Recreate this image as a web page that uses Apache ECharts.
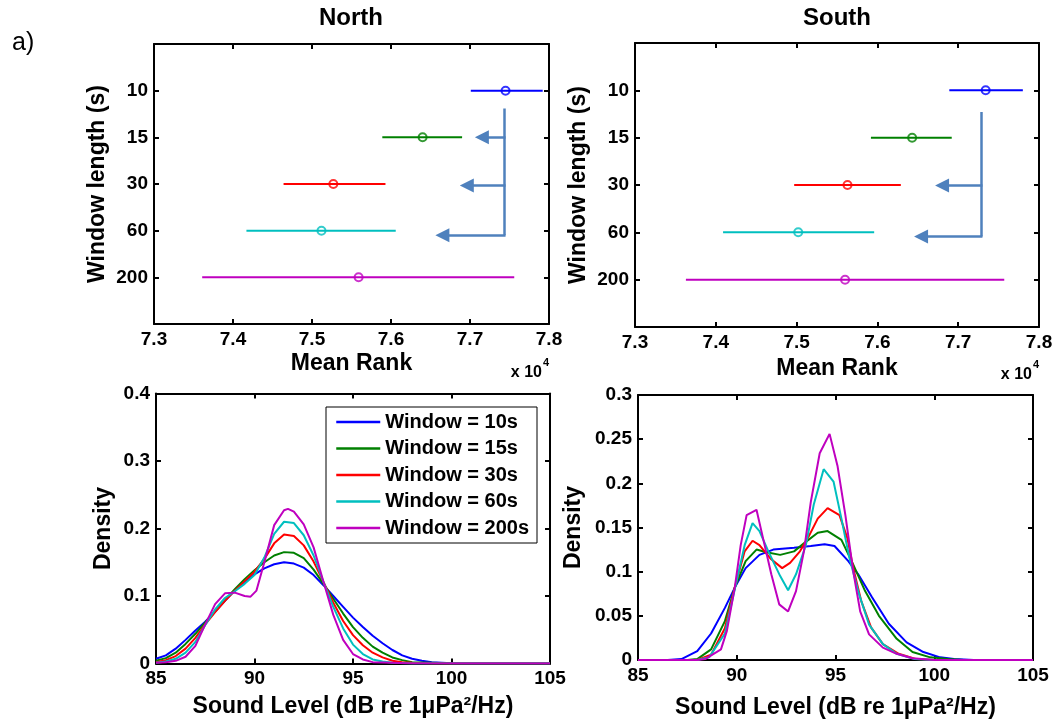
<!DOCTYPE html>
<html><head><meta charset="utf-8">
<script src="https://cdn.jsdelivr.net/npm/echarts@6/dist/echarts.min.js"></script>
<style>html,body{margin:0;padding:0;background:#fff}#c{width:1056px;height:727px}</style>
</head><body><div id="c"></div>
<script>
// ---------- data ----------
const windowLabels = ['10', '15', '30', '60', '200'];
const legendNames = ['Window = 10s', 'Window = 15s', 'Window = 30s', 'Window = 60s', 'Window = 200s'];
const seriesColors = ['#0000FF', '#008000', '#FF0000', '#00BFBF', '#BF00BF'];

// Mean rank (x 10^4) with interval ends
const northMean = [7.745, 7.640, 7.527, 7.512, 7.559];
const northLow  = [7.701, 7.589, 7.464, 7.417, 7.361];
const northHigh = [7.792, 7.690, 7.593, 7.606, 7.756];
const southMean = [7.734, 7.643, 7.563, 7.502, 7.560];
const southLow  = [7.689, 7.592, 7.497, 7.409, 7.363];
const southHigh = [7.780, 7.692, 7.629, 7.596, 7.757];

// Annotation arrows: stem [x, yFrom, yTo]; arrows [xFrom, y, xTip]
const northStem = [7.743, 1.38, 4.1];
const northArrows = [[7.745, 2.0, 7.707], [7.745, 3.03, 7.688], [7.745, 4.1, 7.657]];
const southStem = [7.728, 1.46, 4.09];
const southArrows = [[7.730, 3.01, 7.672], [7.730, 4.09, 7.646]];

// Density curves: [sound level dB, density]
const north10 = [[85,0.007],[85.5,0.012],[86,0.022],[86.5,0.035],[87,0.049],[87.5,0.062],[88,0.077],[88.5,0.093],[89,0.108],[89.5,0.121],[90,0.132],[90.5,0.141],[91,0.147],[91.5,0.150],[92,0.148],[92.5,0.142],[93,0.131],[93.5,0.116],[94,0.100],[94.5,0.084],[95,0.068],[95.5,0.054],[96,0.041],[96.5,0.030],[97,0.020],[97.5,0.012],[98,0.007],[98.5,0.004],[99,0.002],[100,0.0005],[101,0],[105,0]];
const north15 = [[85,0.004],[85.5,0.008],[86,0.016],[86.5,0.029],[87,0.044],[87.5,0.061],[88,0.077],[88.5,0.094],[89,0.110],[89.5,0.125],[90,0.138],[90.5,0.150],[91,0.160],[91.5,0.165],[92,0.164],[92.5,0.156],[93,0.139],[93.5,0.118],[94,0.096],[94.5,0.074],[95,0.054],[95.5,0.038],[96,0.025],[96.5,0.016],[97,0.009],[97.5,0.005],[98,0.002],[99,0.001],[100,0],[105,0]];
const north30 = [[85,0.002],[85.5,0.005],[86,0.011],[86.5,0.022],[87,0.038],[87.5,0.058],[88,0.076],[88.5,0.093],[89,0.108],[89.5,0.122],[90,0.136],[90.5,0.155],[91,0.178],[91.5,0.191],[92,0.189],[92.5,0.175],[93,0.151],[93.5,0.121],[94,0.090],[94.5,0.063],[95,0.042],[95.5,0.027],[96,0.016],[96.5,0.009],[97,0.004],[97.5,0.002],[98,0.001],[99,0],[105,0]];
const north60 = [[85,0.001],[85.5,0.003],[86,0.007],[86.5,0.016],[87,0.032],[87.5,0.057],[88,0.080],[88.5,0.097],[89,0.107],[89.5,0.118],[90,0.131],[90.5,0.157],[91,0.192],[91.5,0.210],[92,0.208],[92.5,0.190],[93,0.160],[93.5,0.121],[94,0.084],[94.5,0.052],[95,0.028],[95.5,0.014],[96,0.006],[96.5,0.003],[97,0.001],[98,0],[105,0]];
const north200 = [[85,0.001],[85.5,0.002],[86,0.004],[86.5,0.010],[87,0.026],[87.5,0.058],[88,0.088],[88.5,0.104],[89,0.105],[89.5,0.100],[89.8,0.099],[90.1,0.108],[90.5,0.150],[91,0.205],[91.5,0.227],[91.7,0.229],[92,0.225],[92.5,0.206],[93,0.172],[93.5,0.121],[94,0.072],[94.5,0.035],[95,0.014],[95.5,0.006],[96,0.002],[97,0.001],[98,0],[105,0]];

const south10 = [[85,0],[86.5,0],[87.2,0.001],[88,0.010],[88.7,0.030],[89.4,0.059],[89.9,0.082],[90.45,0.104],[91.15,0.119],[91.85,0.125],[92.9,0.127],[93.75,0.129],[94.45,0.131],[94.95,0.129],[95.65,0.112],[96.15,0.097],[96.85,0.071],[97.7,0.041],[98.6,0.020],[99.45,0.009],[100.3,0.003],[101,0.001],[102,0],[105,0]];
const south15 = [[85,0],[87.5,0],[88,0.001],[88.7,0.012],[89.4,0.044],[89.9,0.082],[90.45,0.112],[91,0.125],[91.5,0.122],[92.2,0.119],[92.9,0.123],[93.4,0.132],[94.1,0.144],[94.6,0.146],[95.3,0.136],[95.9,0.108],[96.5,0.078],[97.2,0.050],[98.1,0.024],[98.9,0.009],[99.8,0.003],[100.7,0.001],[101.5,0],[105,0]];
const south30 = [[85,0],[88,0],[88.7,0.006],[89.4,0.036],[89.9,0.082],[90.4,0.123],[90.8,0.135],[91.15,0.130],[91.7,0.115],[92.3,0.104],[92.7,0.110],[93.2,0.123],[93.6,0.138],[94.1,0.160],[94.6,0.172],[95.2,0.164],[95.6,0.138],[95.9,0.104],[96.3,0.067],[96.8,0.037],[97.4,0.018],[98.2,0.007],[99.1,0.001],[100,0],[105,0]];
const south60 = [[85,0],[88,0],[88.6,0.003],[89.4,0.030],[89.9,0.080],[90.4,0.130],[90.8,0.155],[91.15,0.146],[91.6,0.123],[92.2,0.095],[92.6,0.079],[93.0,0.097],[93.5,0.130],[93.9,0.176],[94.4,0.216],[94.9,0.202],[95.3,0.160],[95.7,0.116],[96.2,0.074],[96.7,0.040],[97.4,0.018],[98.1,0.007],[99,0.001],[100,0],[105,0]];
const south200 = [[85,0],[88,0],[88.4,0.001],[89.2,0.012],[89.5,0.033],[89.9,0.082],[90.2,0.130],[90.5,0.164],[91.0,0.170],[91.35,0.136],[91.75,0.097],[92.15,0.063],[92.6,0.055],[93.0,0.078],[93.4,0.123],[93.75,0.179],[94.2,0.234],[94.7,0.256],[95.1,0.220],[95.5,0.164],[95.9,0.100],[96.25,0.055],[96.7,0.029],[97.4,0.014],[98.1,0.007],[98.9,0.002],[100,0],[105,0]];

const northDensity = [north10, north15, north30, north60, north200];
const southDensity = [south10, south15, south30, south60, south200];

// ---------- chart ----------
const FONT = '"Liberation Sans", Arial, Helvetica, sans-serif';
const ARROW = '#4F81BD';
const chart = echarts.init(document.getElementById('c'), null, { renderer: 'canvas' });

const grids = [
  { left: 154, top: 44, width: 395, height: 280 },
  { left: 635, top: 43, width: 404, height: 284 },
  { left: 156, top: 393.5, width: 394, height: 270 },
  { left: 638, top: 395, width: 395, height: 265 }
].map(g => Object.assign({ outerBoundsMode: 'none', containLabel: false }, g));

const lineStyleAxis = { color: '#000', width: 2 };
const labelStyle = { color: '#000', fontSize: 19, fontWeight: 'bold', fontFamily: FONT };
const nameStyle = { color: '#000', fontSize: 23, fontWeight: 'bold', fontFamily: FONT };

const xAxes = [], yAxes = [];
function addBox(gi, xs, ys) {
  const base = (gi) => ({
    type: 'value', gridIndex: gi,
    axisLine: { show: true, onZero: false, lineStyle: lineStyleAxis },
    axisTick: { show: true, inside: true, length: 5, lineStyle: lineStyleAxis },
    splitLine: { show: false }
  });
  xAxes.push(Object.assign(base(gi), {
    position: 'bottom', min: xs.min, max: xs.max, interval: xs.interval,
    axisLabel: Object.assign({ margin: 6, formatter: xs.fmt, showMinLabel: true, showMaxLabel: true }, labelStyle),
    name: xs.name, nameLocation: 'middle', nameGap: xs.gap, nameTextStyle: nameStyle
  }));
  xAxes.push(Object.assign(base(gi), {
    position: 'top', min: xs.min, max: xs.max, interval: xs.interval, axisLabel: { show: false }
  }));
  yAxes.push(Object.assign(base(gi), {
    position: 'left', min: ys.min, max: ys.max, interval: ys.interval, inverse: !!ys.inverse,
    axisLabel: Object.assign({ margin: 6, formatter: ys.fmt, showMinLabel: true, showMaxLabel: true }, labelStyle),
    name: ys.name, nameLocation: 'middle', nameGap: ys.gap, nameTextStyle: nameStyle
  }));
  yAxes.push(Object.assign(base(gi), {
    position: 'right', min: ys.min, max: ys.max, interval: ys.interval, inverse: !!ys.inverse, axisLabel: { show: false }
  }));
}
const rankFmt = v => v.toFixed(1);
const winFmt = v => windowLabels[Math.round(v) - 1] || '';
addBox(0, { min: 7.3, max: 7.8, interval: 0.1, fmt: rankFmt, name: 'Mean Rank', gap: 28 },
          { min: 0, max: 6, interval: 1, inverse: true, fmt: winFmt, name: 'Window length (s)', gap: 45 });
addBox(1, { min: 7.3, max: 7.8, interval: 0.1, fmt: rankFmt, name: 'Mean Rank', gap: 30 },
          { min: 0, max: 6, interval: 1, inverse: true, fmt: winFmt, name: 'Window length (s)', gap: 45 });
addBox(2, { min: 85, max: 105, interval: 5, name: 'Sound Level (dB re 1\u03BCPa\u00B2/Hz)', gap: 32 },
          { min: 0, max: 0.4, interval: 0.1, name: 'Density', gap: 41 });
addBox(3, { min: 85, max: 105, interval: 5, name: 'Sound Level (dB re 1\u03BCPa\u00B2/Hz)', gap: 36 },
          { min: 0, max: 0.3, interval: 0.05, name: 'Density', gap: 53 });

const series = [];
function rankPanel(gi, means, lows, highs, stem, arrows) {
  const ax = gi * 2;
  windowLabels.forEach((w, i) => {
    series.push({
      type: 'line', xAxisIndex: ax, yAxisIndex: ax, symbol: 'none', showSymbol: false,
      lineStyle: { color: seriesColors[i], width: 2 }, itemStyle: { color: seriesColors[i] },
      data: [[lows[i], i + 1], [highs[i], i + 1]], silent: true
    });
  });
  series.push({
    type: 'scatter', xAxisIndex: ax, yAxisIndex: ax, symbol: 'circle', symbolSize: 8, z: 5,
    itemStyle: { color: 'rgba(0,0,0,0)', borderWidth: 2 },
    data: means.map((m, i) => ({ value: [m, i + 1], itemStyle: { borderColor: seriesColors[i] } }))
  });
  series.push({
    type: 'lines', coordinateSystem: 'cartesian2d', xAxisIndex: ax, yAxisIndex: ax,
    symbol: 'none', lineStyle: { color: ARROW, width: 2.5, opacity: 1 },
    data: [{ coords: [[stem[0], stem[1]], [stem[0], stem[2]]] }]
  });
  series.push({
    type: 'lines', coordinateSystem: 'cartesian2d', xAxisIndex: ax, yAxisIndex: ax,
    symbol: ['none', 'triangle'], symbolSize: 14, lineStyle: { color: ARROW, width: 2.5, opacity: 1 },
    data: arrows.map(a => ({ coords: [[a[0], a[1]], [a[2] + 0.008, a[1]]] }))
  });
}
rankPanel(0, northMean, northLow, northHigh, northStem, northArrows);
rankPanel(1, southMean, southLow, southHigh, southStem, southArrows);

function densityPanel(gi, sets) {
  const ax = gi * 2;
  sets.forEach((d, i) => {
    series.push({
      type: 'line', name: legendNames[i], xAxisIndex: ax, yAxisIndex: ax,
      symbol: 'none', showSymbol: false, data: d,
      lineStyle: { color: seriesColors[i], width: 2 }, itemStyle: { color: seriesColors[i] }
    });
  });
}
densityPanel(2, northDensity);
densityPanel(3, southDensity);

const txt = (x, y, text, font, align, valign) => ({
  type: 'text', x, y, silent: true,
  style: { text, font, fill: '#000', textAlign: align || 'center', textVerticalAlign: valign || 'middle' }
});

chart.setOption({
  animation: false,
  backgroundColor: '#fff',
  grid: grids,
  xAxis: xAxes,
  yAxis: yAxes,
  legend: {
    data: legendNames, selectedMode: false, orient: 'vertical',
    left: 326, top: 407, itemWidth: 44, itemHeight: 20, itemGap: 6.5,
    padding: [5, 8, 5, 9], borderColor: '#000', borderWidth: 1, backgroundColor: '#fff',
    itemStyle: { color: 'rgba(0,0,0,0)', borderColor: 'rgba(0,0,0,0)', borderWidth: 0 },
    lineStyle: { width: 2.5 },
    textStyle: { color: '#000', fontSize: 20, fontWeight: 'bold', fontFamily: FONT }
  },
  graphic: { elements: [
    txt(12, 43, 'a)', 'normal 25px ' + FONT, 'left'),
    txt(351, 18, 'North', 'bold 24px ' + FONT),
    txt(837, 18, 'South', 'bold 24px ' + FONT),
    txt(542, 373, 'x 10', 'bold 16px ' + FONT, 'right'),
    txt(543, 363, '4', 'bold 11px ' + FONT, 'left'),
    txt(1032, 375, 'x 10', 'bold 16px ' + FONT, 'right'),
    txt(1033, 365, '4', 'bold 11px ' + FONT, 'left')
  ]},
  series
});
</script>
</body></html>
